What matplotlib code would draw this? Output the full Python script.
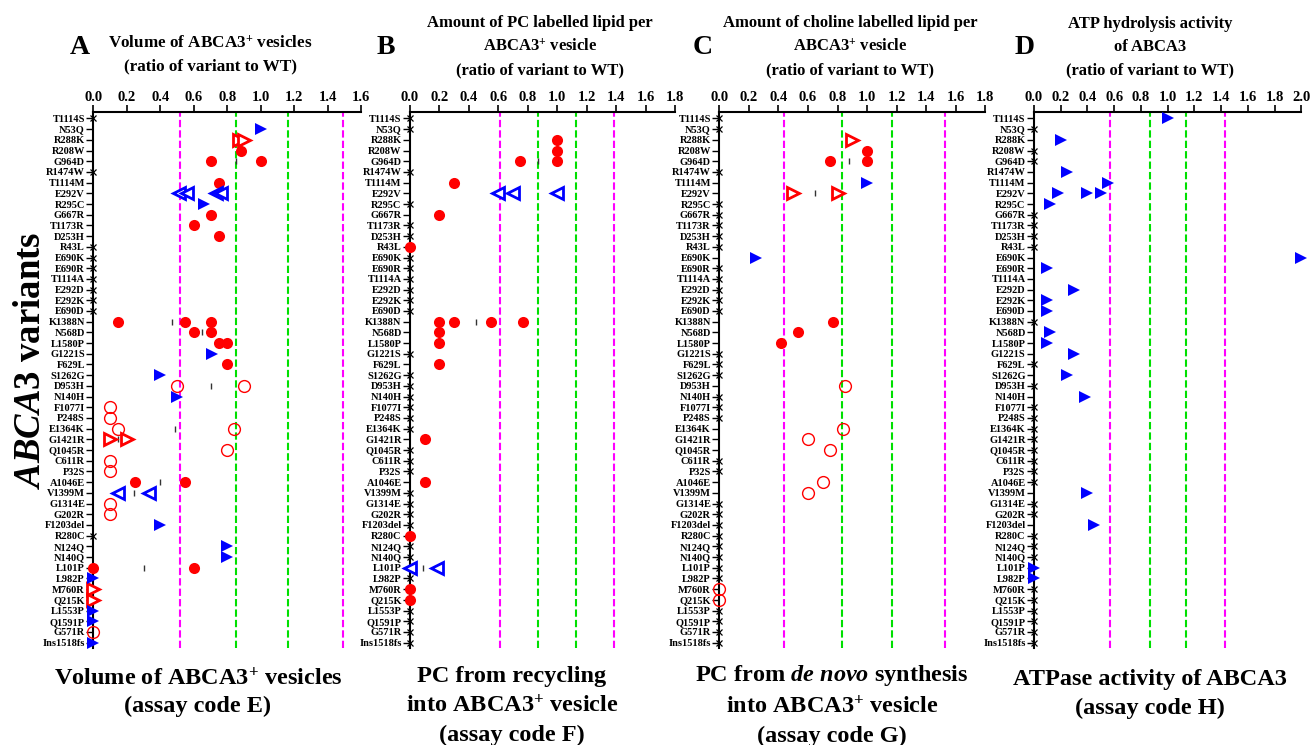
import matplotlib
matplotlib.use("Agg")
import matplotlib.pyplot as plt

plt.rcParams['font.family'] = ['Liberation Serif', 'DejaVu Serif']
plt.rcParams['font.weight'] = 'bold'
plt.rcParams['mathtext.fontset'] = 'custom'
plt.rcParams['mathtext.rm'] = 'Liberation Serif:bold'
plt.rcParams['mathtext.it'] = 'Liberation Serif:italic:bold'
plt.rcParams['mathtext.bf'] = 'Liberation Serif:bold'

variants = [
    "T1114S", "N53Q", "R288K", "R208W", "G964D", "R1474W", "T1114M", "E292V",
    "R295C", "G667R", "T1173R", "D253H", "R43L", "E690K", "E690R", "T1114A",
    "E292D", "E292K", "E690D", "K1388N", "N568D", "L1580P", "G1221S", "F629L",
    "S1262G", "D953H", "N140H", "F1077I", "P248S", "E1364K", "G1421R", "Q1045R",
    "C611R", "P32S", "A1046E", "V1399M", "G1314E", "G202R", "F1203del", "R280C",
    "N124Q", "N140Q", "L101P", "L982P", "M760R", "Q215K", "L1553P", "Q1591P",
    "G571R", "Ins1518fs",
]

# ---- Assay E: volume of ABCA3+ vesicles ----
e_red_filled = {
    "R208W": [0.88], "G964D": [0.70, 1.00], "T1114M": [0.75], "G667R": [0.70],
    "T1173R": [0.60], "D253H": [0.75], "K1388N": [0.15, 0.55, 0.70],
    "N568D": [0.60, 0.70], "L1580P": [0.75, 0.80], "F629L": [0.80],
    "A1046E": [0.25, 0.55], "L101P": [0.00, 0.60],
}
e_red_open = {
    "D953H": [0.50, 0.90], "F1077I": [0.10], "P248S": [0.10], "E1364K": [0.15, 0.84],
    "Q1045R": [0.80], "C611R": [0.10], "P32S": [0.10], "G1314E": [0.10],
    "G202R": [0.10], "G571R": [0.00],
}
e_red_half = {"R288K": [0.87, 0.90], "G1421R": [0.10, 0.20], "M760R": [0.00], "Q215K": [0.00]}
e_blue_filled = {
    "N53Q": [1.00], "R295C": [0.66], "G1221S": [0.71], "S1262G": [0.40], "N140H": [0.50],
    "F1203del": [0.40], "N124Q": [0.80], "N140Q": [0.80], "L982P": [0.00],
    "L1553P": [0.00], "Q1591P": [0.00], "Ins1518fs": [0.00],
}
e_blue_open = {"E292V": [0.51, 0.56, 0.73, 0.76], "V1399M": [0.15, 0.33]}
e_means = {"G964D": 0.85, "K1388N": 0.47, "N568D": 0.65, "D953H": 0.70,
           "E1364K": 0.49, "G1421R": 0.15, "A1046E": 0.40, "V1399M": 0.24, "L101P": 0.30}
e_limits = [0.52, 0.85, 1.16, 1.49]

# ---- Assay F: PC from recycling ----
f_red_filled = {
    "R288K": [1.00], "R208W": [1.00], "G964D": [0.75, 1.00], "T1114M": [0.30],
    "G667R": [0.20], "R43L": [0.00], "K1388N": [0.20, 0.30, 0.55, 0.77],
    "N568D": [0.20], "L1580P": [0.20], "F629L": [0.20], "G1421R": [0.10],
    "A1046E": [0.10], "R280C": [0.00], "M760R": [0.00], "Q215K": [0.00],
}
f_blue_open = {"E292V": [0.60, 0.70, 1.00], "L101P": [0.00, 0.18]}
f_means = {"G964D": 0.87, "K1388N": 0.45, "L101P": 0.09}
f_limits = [0.61, 0.87, 1.13, 1.385]

# ---- Assay G: PC from de novo synthesis ----
g_red_filled = {"R208W": [1.00], "G964D": [0.75, 1.00], "K1388N": [0.77],
                "N568D": [0.53], "L1580P": [0.42]}
g_red_open = {"D953H": [0.85], "E1364K": [0.84], "G1421R": [0.60], "Q1045R": [0.75],
              "A1046E": [0.70], "V1399M": [0.60], "M760R": [0.00], "Q215K": [0.00]}
g_red_half = {"R288K": [0.90], "E292V": [0.50, 0.80]}
g_blue_filled = {"T1114M": [1.00], "E690K": [0.25]}
g_means = {"G964D": 0.88, "E292V": 0.65}
g_limits = [0.44, 0.83, 1.17, 1.53]

# ---- Assay H: ATPase activity ----
h_blue_filled = {
    "T1114S": [1.00], "R288K": [0.20], "R1474W": [0.25], "T1114M": [0.55],
    "E292V": [0.18, 0.40, 0.50], "R295C": [0.12], "E690K": [2.00], "E690R": [0.10],
    "E292D": [0.30], "E292K": [0.10], "E690D": [0.10], "N568D": [0.12],
    "L1580P": [0.10], "G1221S": [0.30], "S1262G": [0.25], "N140H": [0.38],
    "V1399M": [0.40], "F1203del": [0.45], "L101P": [0.00], "L982P": [0.00],
}
h_unmarked = ["T1114A"]
h_limits = [0.57, 0.87, 1.14, 1.43]

RED, BLUE = "#ff0000", "#0000ff"
MAGENTA, GREEN = "#ff00ff", "#00e000"

styles = {
    "red_filled": dict(marker="o", ms=8, mfc=RED, mec=RED, mew=0),
    "red_open": dict(marker="o", ms=8.5, mfc="none", mec=RED, mew=1.0),
    "red_half": dict(marker=">", ms=8, mfc="white", mec=RED, mew=2.0),
    "blue_filled": dict(marker=">", ms=8, mfc=BLUE, mec=BLUE, mew=0),
    "blue_open": dict(marker="<", ms=8, mfc="white", mec=BLUE, mew=2.0),
}

row = {v: i for i, v in enumerate(variants)}
fig = plt.figure(figsize=(13.1, 7.45), dpi=100)


def panel(rect, xmax, series, means, limits, unmarked=()):
    ax = fig.add_axes(rect)
    n = len(variants)
    ax.set_xlim(0, xmax)
    ax.set_ylim(n - 0.5, -0.6)
    for x, c in zip(limits, [MAGENTA, GREEN, GREEN, MAGENTA]):
        ax.axvline(x, color=c, ls=(0, (3.5, 1.5)), lw=1.5, zorder=1)
    used = set(unmarked)
    for kind, d in series:
        for v, vals in d.items():
            used.add(v)
            for val in vals:
                ax.plot([val], [row[v]], ls="none", clip_on=False, zorder=4, **styles[kind])
    for v, val in means.items():
        ax.plot([val], [row[v]], ls="none", marker="|", ms=5, mew=1.0,
                color="#333333", zorder=3)
    for v in variants:
        if v not in used:
            ax.plot([0], [row[v]], ls="none", marker="x", ms=5, mew=0.9,
                    color="black", clip_on=False, zorder=5)
    ax.set_yticks(range(n))
    ax.set_yticklabels(variants)
    ticks = [round(0.2 * k, 1) for k in range(int(round(xmax / 0.2)) + 1)]
    ax.set_xticks(ticks)
    ax.set_xticklabels([f"{t:.1f}" for t in ticks])
    ax.xaxis.tick_top()
    ax.tick_params(axis="x", direction="out", length=5, width=1.2, labelsize=10.5, pad=1)
    ax.tick_params(axis="y", direction="out", length=5, width=1.0, labelsize=7.5, pad=1)
    for lab in ax.get_xticklabels() + ax.get_yticklabels():
        lab.set_fontweight("bold")
    for s in ("right", "bottom"):
        ax.spines[s].set_visible(False)
    for s in ("left", "top"):
        ax.spines[s].set_linewidth(1.5)
    return ax


H = 745.0
W = 1310.0
bottom = 1 - 648 / H
height = (648 - 112) / H

panel([93.3 / W, bottom, 268 / W, height], 1.6,
      [("red_filled", e_red_filled), ("red_open", e_red_open), ("red_half", e_red_half),
       ("blue_filled", e_blue_filled), ("blue_open", e_blue_open)],
      e_means, e_limits)
panel([410 / W, bottom, 265 / W, height], 1.8,
      [("red_filled", f_red_filled), ("blue_open", f_blue_open)],
      f_means, f_limits)
panel([719.3 / W, bottom, 266 / W, height], 1.8,
      [("red_filled", g_red_filled), ("red_open", g_red_open), ("red_half", g_red_half),
       ("blue_filled", g_blue_filled)],
      g_means, g_limits)
panel([1034 / W, bottom, 267.4 / W, height], 2.0,
      [("blue_filled", h_blue_filled)],
      {}, h_limits, unmarked=h_unmarked)


def ftext(x, y, s, size, **kw):
    fig.text(x / W, 1 - y / H, s, fontsize=size, fontweight="bold",
             ha=kw.pop("ha", "center"), va=kw.pop("va", "center"), **kw)


# panel letters
for letter, x in [("A", 80), ("B", 386), ("C", 703), ("D", 1025)]:
    ftext(x, 47, letter, 20)

# panel titles
ftext(210, 55, "Volume of ABCA3$^{+}$ vesicles\n(ratio of variant to WT)", 12.3, linespacing=1.55)
ftext(540, 47, "Amount of PC labelled lipid per\nABCA3$^{+}$ vesicle\n(ratio of variant to WT)", 12, linespacing=1.6)
ftext(850, 47, "Amount of choline labelled lipid per\nABCA3$^{+}$ vesicle\n(ratio of variant to WT)", 12, linespacing=1.6)
ftext(1150, 47, "ATP hydrolysis activity\nof ABCA3\n(ratio of variant to WT)", 12, linespacing=1.6)

# assay captions
ftext(198, 692, "Volume of ABCA3$^{+}$ vesicles\n(assay code E)", 17.5, linespacing=1.35)
ftext(512, 706, "PC from recycling\ninto ABCA3$^{+}$ vesicle\n(assay code F)", 17.5, linespacing=1.45)
ftext(832, 705, "PC from $\\mathit{de}$ $\\mathit{novo}$ synthesis\ninto ABCA3$^{+}$ vesicle\n(assay code G)", 17.5, linespacing=1.45)
ftext(1150, 694, "ATPase activity of ABCA3\n(assay code H)", 17.5, linespacing=1.45)

# shared y label
ftext(48, 360, "$\\mathit{ABCA3}$ variants", 26.5, rotation=90, ha="right")

fig.savefig("out.png", dpi=100)
